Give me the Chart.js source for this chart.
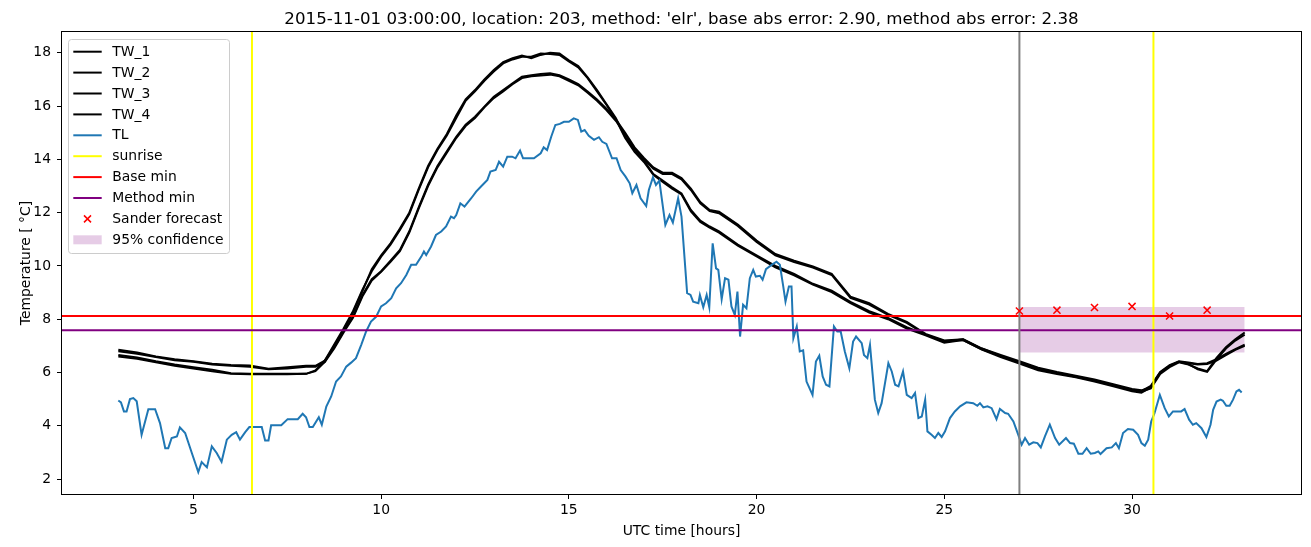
<!DOCTYPE html>
<html lang="en">
<head>
<meta charset="UTF-8">
<title>Road temperature forecast</title>
<script src="https://cdn.jsdelivr.net/npm/chart.js"></script>
<style>
    body {
        margin: 0;
        background: #ffffff;
    }
    canvas {
        display: block;
    }
</style>
</head>
<body>
<canvas id="tempChart" width="1311" height="547"></canvas>
<script>
    // hours (UTC) shared by the four TW series
    const twHours = [3, 3.5, 4, 4.5, 5, 5.5, 6, 6.5, 7, 7.5,
        8, 8.25, 8.5, 8.75, 9, 9.25, 9.5, 9.75, 10, 10.25,
        10.5, 10.75, 11, 11.25, 11.5, 11.75, 12, 12.25, 12.5, 12.75,
        13, 13.25, 13.5, 13.75, 14, 14.25, 14.5, 14.75, 15, 15.25,
        15.5, 15.75, 16, 16.25, 16.5, 16.75, 17, 17.25, 17.5, 17.75,
        18, 18.25, 18.5, 18.75, 19, 19.5, 20, 20.5, 21, 21.5,
        22, 22.5, 23, 23.5, 24, 24.5, 25, 25.5, 26, 26.5,
        27, 27.5, 28, 28.5, 29, 29.5, 30, 30.25, 30.5, 30.75,
        31, 31.25, 31.5, 31.75, 32, 32.25, 32.5, 32.75, 33];

    const tw1 = [6.66, 6.56, 6.42, 6.30, 6.20, 6.10, 5.97, 5.95, 5.95, 5.95,
        5.95, 6.05, 6.40, 7.00, 7.60, 8.25, 9.05, 9.88, 10.40, 10.85,
        11.40, 12.00, 12.90, 13.75, 14.40, 14.95, 15.65, 16.25, 16.60, 17.00,
        17.35, 17.65, 17.80, 17.90, 17.80, 17.92, 18.00, 17.97, 17.72, 17.50,
        17.08, 16.60, 16.08, 15.55, 14.85, 14.33, 13.95, 13.45, 13.20, 12.95,
        12.72, 12.10, 11.70, 11.48, 11.30, 10.80, 10.40, 10.00, 9.70, 9.33,
        9.07, 8.65, 8.30, 8.05, 7.70, 7.42, 7.15, 7.25, 6.90, 6.62,
        6.38, 6.12, 5.98, 5.85, 5.70, 5.52, 5.35, 5.28, 5.40, 5.95,
        6.20, 6.38, 6.30, 6.15, 6.05, 6.55, 6.95, 7.25, 7.50];

    const tw2 = [6.60, 6.52, 6.38, 6.25, 6.15, 6.05, 5.95, 5.93, 5.93, 5.93,
        5.95, 6.08, 6.45, 7.05, 7.65, 8.30, 9.10, 9.80, 10.35, 10.80,
        11.35, 11.95, 12.85, 13.70, 14.35, 14.90, 15.55, 16.20, 16.55, 16.95,
        17.30, 17.60, 17.75, 17.85, 17.85, 17.97, 17.95, 17.92, 17.68, 17.45,
        17.05, 16.55, 16.05, 15.50, 14.80, 14.28, 13.90, 13.42, 13.15, 12.90,
        12.68, 12.05, 11.65, 11.44, 11.25, 10.76, 10.36, 9.95, 9.65, 9.30,
        9.02, 8.60, 8.25, 8.00, 7.65, 7.40, 7.12, 7.22, 6.86, 6.58,
        6.34, 6.08, 5.94, 5.82, 5.66, 5.48, 5.30, 5.24, 5.45, 6.00,
        6.25, 6.40, 6.32, 6.12, 6.02, 6.48, 6.90, 7.20, 7.42];

    const tw3 = [6.85, 6.75, 6.60, 6.50, 6.42, 6.33, 6.28, 6.26, 6.14, 6.20,
        6.25, 6.25, 6.45, 6.95, 7.55, 8.10, 8.90, 9.50, 9.80, 10.20,
        10.60, 11.30, 12.20, 13.05, 13.75, 14.30, 14.85, 15.30, 15.60, 15.98,
        16.35, 16.60, 16.85, 17.10, 17.16, 17.20, 17.23, 17.16, 17.00, 16.82,
        16.55, 16.25, 15.90, 15.50, 15.00, 14.45, 14.05, 13.70, 13.50, 13.50,
        13.30, 12.90, 12.40, 12.10, 12.04, 11.55, 10.95, 10.45, 10.20, 9.98,
        9.70, 8.85, 8.60, 8.20, 7.90, 7.45, 7.20, 7.25, 6.90, 6.66,
        6.42, 6.18, 6.02, 5.88, 5.74, 5.56, 5.38, 5.33, 5.45, 5.98,
        6.25, 6.40, 6.35, 6.30, 6.32, 6.45, 6.65, 6.85, 7.00];

    const tw4 = [6.80, 6.70, 6.58, 6.46, 6.40, 6.30, 6.25, 6.22, 6.12, 6.15,
        6.22, 6.22, 6.40, 6.90, 7.50, 8.05, 8.85, 9.45, 9.78, 10.15,
        10.55, 11.25, 12.15, 13.00, 13.70, 14.25, 14.80, 15.25, 15.55, 15.95,
        16.30, 16.55, 16.82, 17.05, 17.12, 17.15, 17.18, 17.12, 16.95, 16.78,
        16.50, 16.20, 15.85, 15.45, 14.95, 14.40, 14.00, 13.65, 13.45, 13.45,
        13.25, 12.85, 12.35, 12.06, 11.98, 11.50, 10.90, 10.40, 10.15, 9.94,
        9.66, 8.80, 8.55, 8.16, 7.86, 7.42, 7.18, 7.22, 6.87, 6.62,
        6.38, 6.14, 5.98, 5.84, 5.70, 5.52, 5.34, 5.30, 5.50, 6.02,
        6.28, 6.42, 6.38, 6.32, 6.35, 6.50, 6.70, 6.88, 7.05];

    // air temperature TL
    const tlHours = [3.0, 3.07, 3.15, 3.22, 3.31, 3.4, 3.49, 3.62, 3.8, 3.98,
        4.11, 4.25, 4.33, 4.42, 4.56, 4.64, 4.78, 4.96, 5.13, 5.22,
        5.36, 5.49, 5.62, 5.75, 5.89, 6.02, 6.14, 6.24, 6.38, 6.49,
        6.82, 6.91, 7.0, 7.07, 7.34, 7.51, 7.78, 7.91, 8.0, 8.09,
        8.18, 8.34, 8.42, 8.54, 8.67, 8.8, 8.93, 9.07, 9.2, 9.33,
        9.47, 9.6, 9.73, 9.87, 10.0, 10.13, 10.27, 10.4, 10.53, 10.67,
        10.8, 10.93, 11.07, 11.14, 11.2, 11.33, 11.46, 11.6, 11.73, 11.86,
        11.94, 12.0, 12.11, 12.22, 12.4, 12.53, 12.66, 12.83, 12.91, 13.05,
        13.14, 13.25, 13.36, 13.49, 13.58, 13.7, 13.78, 14.07, 14.25, 14.33,
        14.42, 14.53, 14.64, 14.76, 14.87, 15.0, 15.13, 15.24, 15.33, 15.42,
        15.53, 15.67, 15.8, 15.89, 16.0, 16.15, 16.27, 16.38, 16.51, 16.62,
        16.69, 16.8, 16.91, 17.06, 17.13, 17.24, 17.32, 17.41, 17.57, 17.68,
        17.77, 17.91, 18.0, 18.15, 18.24, 18.31, 18.45, 18.49, 18.58, 18.67,
        18.74, 18.83, 18.92, 18.98, 19.07, 19.16, 19.25, 19.33, 19.42, 19.49,
        19.56, 19.64, 19.73, 19.82, 19.91, 19.98, 20.09, 20.16, 20.25, 20.4,
        20.53, 20.62, 20.71, 20.77, 20.86, 20.93, 20.98, 21.07, 21.15, 21.24,
        21.33, 21.49, 21.58, 21.67, 21.76, 21.85, 21.94, 22.06, 22.15, 22.24,
        22.35, 22.47, 22.57, 22.65, 22.8, 22.86, 22.95, 23.02, 23.15, 23.24,
        23.33, 23.51, 23.6, 23.69, 23.78, 23.9, 24.0, 24.13, 24.22, 24.31,
        24.4, 24.49, 24.55, 24.66, 24.75, 24.84, 24.93, 25.02, 25.15, 25.28,
        25.42, 25.59, 25.77, 25.88, 25.95, 26.04, 26.15, 26.26, 26.39, 26.48,
        26.62, 26.7, 26.84, 26.97, 27.06, 27.15, 27.26, 27.37, 27.48, 27.57,
        27.68, 27.81, 27.95, 28.06, 28.24, 28.35, 28.45, 28.57, 28.68, 28.79,
        28.9, 29.01, 29.1, 29.16, 29.32, 29.46, 29.57, 29.65, 29.76, 29.89,
        30.03, 30.16, 30.25, 30.34, 30.43, 30.51, 30.6, 30.74, 30.87, 30.98,
        31.09, 31.31, 31.4, 31.52, 31.62, 31.71, 31.85, 31.98, 32.09, 32.16,
        32.25, 32.36, 32.42, 32.51, 32.6, 32.69, 32.78, 32.85, 32.92];

    const tlTemp = [4.95, 4.88, 4.54, 4.54, 5.0, 5.04, 4.92, 3.66, 4.62, 4.62,
        4.1, 3.16, 3.16, 3.54, 3.6, 3.94, 3.73, 2.97, 2.26, 2.64,
        2.44, 3.23, 2.98, 2.65, 3.48, 3.66, 3.76, 3.48, 3.76, 3.95,
        3.95, 3.45, 3.45, 4.02, 4.02, 4.25, 4.25, 4.45, 4.32, 3.95,
        3.95, 4.32, 4.04, 4.72, 5.1, 5.66, 5.85, 6.22, 6.37, 6.54,
        7.04, 7.54, 7.91, 8.1, 8.48, 8.6, 8.79, 9.16, 9.35, 9.66,
        10.04, 10.04, 10.35, 10.54, 10.41, 10.73, 11.16, 11.29, 11.48, 11.85,
        11.79, 11.91, 12.35, 12.23, 12.54, 12.79, 12.98, 13.23, 13.54, 13.6,
        13.91, 13.73, 14.1, 14.1, 14.04, 14.33, 14.04, 14.04, 14.23, 14.45,
        14.35, 14.85, 15.29, 15.33, 15.41, 15.41, 15.54, 15.48, 15.04, 15.1,
        14.88, 14.73, 14.83, 14.66, 14.58, 14.04, 14.04, 13.6, 13.35, 13.1,
        12.73, 13.04, 12.54, 12.25, 12.85, 13.33, 13.04, 13.2, 11.54, 11.91,
        11.63, 12.54, 11.85, 8.98, 8.91, 8.66, 8.6, 8.91, 8.45, 8.91,
        8.45, 10.85, 9.91, 9.85, 8.75, 9.54, 9.48, 8.48, 8.16, 9.04,
        7.35, 8.54, 8.41, 9.54, 9.85, 9.6, 9.63, 9.48, 9.88, 10.04,
        10.16, 10.04, 9.23, 8.66, 9.23, 9.23, 7.29, 7.73, 6.79, 6.83,
        5.66, 5.16, 6.41, 6.63, 5.85, 5.54, 5.48, 7.73, 7.54, 7.54,
        6.79, 6.16, 7.16, 7.35, 7.1, 6.66, 6.54, 7.04, 4.98, 4.48,
        4.85, 6.35, 6.04, 5.54, 5.48, 6.04, 5.16, 5.04, 5.23, 4.29,
        4.35, 4.98, 3.79, 3.66, 3.54, 3.73, 3.58, 3.79, 4.29, 4.54,
        4.73, 4.88, 4.85, 4.75, 4.85, 4.69, 4.73, 4.66, 4.25, 4.63,
        4.48, 4.45, 4.16, 3.66, 3.29, 3.54, 3.29, 3.38, 3.35, 3.19,
        3.6, 4.04, 3.54, 3.29, 3.54, 3.35, 3.33, 2.95, 2.95, 3.16,
        2.95, 2.98, 3.04, 2.94, 3.16, 3.19, 3.35, 3.16, 3.73, 3.88,
        3.85, 3.66, 3.35, 3.25, 3.48, 4.16, 4.48, 5.16, 4.66, 4.35,
        4.54, 4.54, 4.63, 4.23, 4.04, 4.1, 3.91, 3.58, 4.04, 4.6,
        4.91, 4.98, 4.94, 4.75, 4.75, 4.98, 5.29, 5.35, 5.25];

    const sunriseHours = [6.56, 30.57];
    const forecastStart = 27;
    const baseMin = 8.12;
    const methodMin = 7.59;
    const forecastHours = [27, 28, 29, 30, 31, 32];
    const forecastTemp = [8.31, 8.34, 8.44, 8.48, 8.12, 8.34];
    const confHours = [27, 33];
    const confLow = 6.75;
    const confHigh = 8.46;

    const xTicks = [5, 10, 15, 20, 25, 30];
    const yTicks = [2, 4, 6, 8, 10, 12, 14, 16, 18];
    const xMin = 1.5, xMax = 34.5;
    const yMin = 1.44, yMax = 18.78;

    const titleText = "2015-11-01 03:00:00, location: 203, method: 'elr', base abs error: 2.90, method abs error: 2.38";
    const fontFamily = '"DejaVu Sans", sans-serif';

    const pairs = (xs, ys) => xs.map((x, i) => ({ x: x, y: ys[i] }));

    function lineSet(label, data, color, order) {
        return {
            label: label,
            data: data,
            borderColor: color,
            backgroundColor: color,
            borderWidth: 2,
            pointRadius: 0,
            tension: 0,
            fill: false,
            order: order
        };
    }

    const datasets = [
        lineSet('TW_1', pairs(twHours, tw1), '#000000', 20),
        lineSet('TW_2', pairs(twHours, tw2), '#000000', 19),
        lineSet('TW_3', pairs(twHours, tw3), '#000000', 18),
        lineSet('TW_4', pairs(twHours, tw4), '#000000', 17),
        lineSet('TL', pairs(tlHours, tlTemp), '#1f77b4', 16),
        lineSet('sunrise', [{ x: sunriseHours[0], y: yMin }, { x: sunriseHours[0], y: yMax }], '#ffff00', 15),
        lineSet('sunrise2', [{ x: sunriseHours[1], y: yMin }, { x: sunriseHours[1], y: yMax }], '#ffff00', 14),
        lineSet('Base min', [{ x: xMin, y: baseMin }, { x: xMax, y: baseMin }], '#ff0000', 13),
        lineSet('Method min', [{ x: xMin, y: methodMin }, { x: xMax, y: methodMin }], '#800080', 12),
        lineSet('start', [{ x: forecastStart, y: yMin }, { x: forecastStart, y: yMax }], '#808080', 11),
        {
            label: 'Sander forecast',
            data: pairs(forecastHours, forecastTemp),
            showLine: false,
            pointStyle: 'crossRot',
            pointRadius: 5,
            borderColor: '#ff0000',
            borderWidth: 1.5,
            order: 10
        },
        {
            label: '95% confidence',
            data: [{ x: confHours[0], y: confHigh }, { x: confHours[1], y: confHigh }],
            borderWidth: 0,
            pointRadius: 0,
            backgroundColor: 'rgba(128, 0, 128, 0.2)',
            fill: '+1',
            order: 30
        },
        {
            label: 'conf low',
            data: [{ x: confHours[0], y: confLow }, { x: confHours[1], y: confLow }],
            borderWidth: 0,
            pointRadius: 0,
            fill: false,
            order: 31
        }
    ];

    // legend entries, matplotlib style
    const legendItems = [
        { label: 'TW_1', kind: 'line', color: '#000000' },
        { label: 'TW_2', kind: 'line', color: '#000000' },
        { label: 'TW_3', kind: 'line', color: '#000000' },
        { label: 'TW_4', kind: 'line', color: '#000000' },
        { label: 'TL', kind: 'line', color: '#1f77b4' },
        { label: 'sunrise', kind: 'line', color: '#ffff00' },
        { label: 'Base min', kind: 'line', color: '#ff0000' },
        { label: 'Method min', kind: 'line', color: '#800080' },
        { label: 'Sander forecast', kind: 'cross', color: '#ff0000' },
        { label: '95% confidence', kind: 'patch', color: 'rgba(128, 0, 128, 0.2)' }
    ];

    const framePlugin = {
        id: 'frame',
        afterDatasetsDraw(chart) {
            const ctx = chart.ctx;
            const a = chart.chartArea;
            ctx.save();
            ctx.strokeStyle = '#000000';
            ctx.lineWidth = 1;
            ctx.strokeRect(a.left - 0.5, a.top - 0.5, a.right - a.left + 1, a.bottom - a.top + 1);
            ctx.restore();
        },
        afterDraw(chart) {
            const ctx = chart.ctx;
            const a = chart.chartArea;
            ctx.save();
            // title centred over the axes
            ctx.fillStyle = '#000000';
            ctx.font = '16.67px ' + fontFamily;
            ctx.textAlign = 'center';
            ctx.textBaseline = 'alphabetic';
            ctx.fillText(titleText, (a.left + a.right) / 2, 24);

            // legend box
            const bx = a.left + 6.5, by = a.top + 7.5, bw = 161, bh = 214;
            ctx.beginPath();
            ctx.roundRect(bx, by, bw, bh, 3);
            ctx.fillStyle = 'rgba(255, 255, 255, 0.8)';
            ctx.fill();
            ctx.strokeStyle = '#cccccc';
            ctx.lineWidth = 1;
            ctx.stroke();

            ctx.font = '13.9px ' + fontFamily;
            ctx.textAlign = 'left';
            ctx.textBaseline = 'middle';
            legendItems.forEach((item, i) => {
                const y = a.top + 19.7 + i * 20.9;
                const hx0 = a.left + 11.3, hx1 = a.left + 39.7;
                if (item.kind === 'line') {
                    ctx.strokeStyle = item.color;
                    ctx.lineWidth = 2;
                    ctx.beginPath();
                    ctx.moveTo(hx0, y);
                    ctx.lineTo(hx1, y);
                    ctx.stroke();
                } else if (item.kind === 'cross') {
                    const cx = (hx0 + hx1) / 2, r = 3.5;
                    ctx.strokeStyle = item.color;
                    ctx.lineWidth = 1.5;
                    ctx.beginPath();
                    ctx.moveTo(cx - r, y - r);
                    ctx.lineTo(cx + r, y + r);
                    ctx.moveTo(cx - r, y + r);
                    ctx.lineTo(cx + r, y - r);
                    ctx.stroke();
                } else {
                    ctx.fillStyle = item.color;
                    ctx.fillRect(hx0, y - 4.5, hx1 - hx0, 9);
                }
                ctx.fillStyle = '#000000';
                ctx.fillText(item.label, a.left + 50.3, y + 0.5);
            });
            ctx.restore();
        }
    };

    const tickFont = { family: fontFamily, size: 13.9 };

    const ctx = document.getElementById('tempChart').getContext('2d');
    new Chart(ctx, {
        type: 'line',
        data: { datasets: datasets },
        options: {
            responsive: false,
            animation: false,
            devicePixelRatio: 1,
            layout: { padding: { top: 32, right: 10, left: 0, bottom: 0 } },
            plugins: {
                legend: { display: false },
                title: { display: false },
                tooltip: { enabled: false }
            },
            scales: {
                x: {
                    type: 'linear',
                    min: xMin,
                    max: xMax,
                    afterBuildTicks: (scale) => { scale.ticks = xTicks.map(v => ({ value: v })); },
                    afterFit: (scale) => { scale.height = 53; },
                    ticks: { font: tickFont, color: '#000000', padding: 3, maxRotation: 0 },
                    grid: { drawOnChartArea: false, drawTicks: true, tickLength: 5, color: '#000000' },
                    border: { display: false },
                    title: {
                        display: true,
                        text: 'UTC time [hours]',
                        font: tickFont,
                        color: '#000000',
                        padding: { top: 0, bottom: 7.7 }
                    }
                },
                y: {
                    type: 'linear',
                    min: yMin,
                    max: yMax,
                    afterBuildTicks: (scale) => { scale.ticks = yTicks.map(v => ({ value: v })); },
                    afterFit: (scale) => { scale.width = 62; },
                    ticks: { font: tickFont, color: '#000000', padding: 6 },
                    grid: { drawOnChartArea: false, drawTicks: true, tickLength: 5, color: '#000000' },
                    border: { display: false },
                    title: {
                        display: true,
                        text: 'Temperature [ \u00b0C]',
                        font: tickFont,
                        color: '#000000',
                        padding: { top: 18.5, bottom: 0 }
                    }
                }
            }
        },
        plugins: [framePlugin]
    });
</script>
</body>
</html>
